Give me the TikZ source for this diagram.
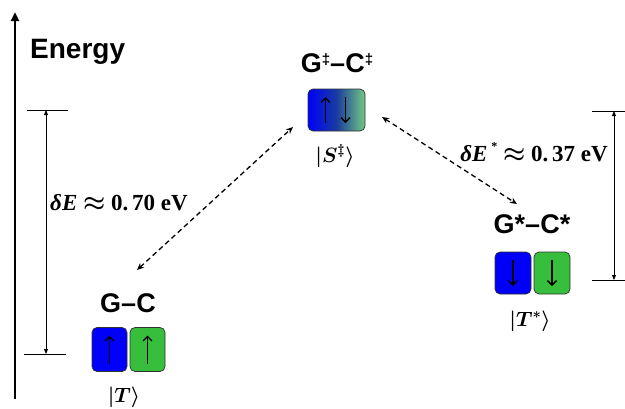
\documentclass[tikz,border=0pt]{standalone}
\usepackage{fontspec}
\newfontfamily\headfont{Liberation Sans}
\newfontfamily\gapfont{Liberation Serif}
\usetikzlibrary{arrows.meta,calc}

\definecolor{spinblue}{RGB}{0,0,250}
\definecolor{spingreen}{RGB}{55,190,60}
\definecolor{gradmid}{RGB}{25,60,160}
\definecolor{gradgreen}{RGB}{115,200,130}
\definecolor{boxedge}{RGB}{50,50,50}

\newcommand{\smallmark}[1]{\raisebox{0.28em}{\fontsize{15}{15}\selectfont #1}}

\tikzset{
  heading/.style={font=\headfont\bfseries\fontsize{27}{30}\selectfont, anchor=base, inner sep=0pt},
  ket/.style={font=\boldmath\fontsize{21}{24}\selectfont, inner sep=0pt},
  gap/.style={font=\boldmath\gapfont\bfseries\fontsize{23}{26}\selectfont, anchor=base, inner sep=0pt},
  spinbox/.style={draw=boxedge, line width=0.7pt, rounded corners=5pt,
    minimum width=35pt, minimum height=44pt, inner sep=0pt},
  bluebox/.style={spinbox, fill=spinblue},
  greenbox/.style={spinbox, fill=spingreen},
  spin/.style={line width=1.4pt, -{Straight Barb[length=4.5pt,width=9pt,line width=1.4pt]}},
  level/.style={line width=1pt},
  span/.style={line width=0.9pt, {Triangle[length=5pt,width=4pt]}-{Triangle[length=5pt,width=4pt]}},
  hop/.style={line width=1.3pt, dash pattern=on 5pt off 3.5pt,
    {Stealth[length=7pt,width=6pt]}-{Stealth[length=7pt,width=6pt]}}
}

\begin{document}
\begin{tikzpicture}[x=1pt, y=-1pt]
  \useasboundingbox (0,0) rectangle (625,408);

  % energy axis
  \coordinate (axbot) at (15,399);
  \coordinate (axtop) at (15,12);
  \draw[line width=2.6pt, -{Triangle[length=9pt,width=8pt]}] (axbot) -- (axtop);
  \node[font=\headfont\bfseries\fontsize{28}{32}\selectfont, anchor=base west, inner sep=0pt]
    (energy) at (30,58) {Energy};

  % triplet ground pair G-C
  \node[heading] (gc) at (128,312) {G–C};
  \node[bluebox] (gcB) at (109.5,349.5) {};
  \node[greenbox] (gcG) at (147.5,349.5) {};
  \draw[spin] ($(gcB.center)+(0,14)$) -- ($(gcB.center)+(0,-14)$);
  \draw[spin] ($(gcG.center)+(0,14)$) -- ($(gcG.center)+(0,-14)$);
  \node[ket] (kT) at (124,397) {$|T\rangle$};

  % singlet pair
  \node[heading] (gcS) at (337,72) {G\smallmark{‡}–C\smallmark{‡}};
  \node[spinbox, minimum width=57pt, minimum height=42pt,
    left color=spinblue, right color=gradgreen, middle color=gradmid] (sB) at (336.5,110) {};
  \draw[spin] ($(sB.center)+(-11,13)$) -- ($(sB.center)+(-11,-13)$);
  \draw[spin] ($(sB.center)+(9,-13)$) -- ($(sB.center)+(9,13)$);
  \node[ket] (kS) at (335,156) {$|S^{\ddagger}\rangle$};

  % excited triplet pair
  \node[heading] (gcT) at (532,233) {G*–C*};
  \node[bluebox, minimum width=36pt, minimum height=42pt] (gtB) at (513,273) {};
  \node[greenbox, minimum width=36pt, minimum height=42pt] (gtG) at (552,273) {};
  \draw[spin] ($(gtB.center)+(0,-13)$) -- ($(gtB.center)+(0,13)$);
  \draw[spin] ($(gtG.center)+(0,-13)$) -- ($(gtG.center)+(0,13)$);
  \node[ket] (kTs) at (530,321) {$|T^{*}\rangle$};

  % transitions
  \coordinate (hopA) at (137,270);
  \coordinate (hopB) at (293,127);
  \coordinate (hopC) at (382,117);
  \coordinate (hopD) at (517,204);
  \draw[hop] (hopA) -- (hopB);
  \draw[hop] (hopC) -- (hopD);

  % left energy gap
  \coordinate (lt1) at (27,110); \coordinate (lt2) at (68,110);
  \coordinate (lb1) at (24,354); \coordinate (lb2) at (66,354);
  \coordinate (lv1) at (46,110); \coordinate (lv2) at (46,354);
  \draw[level] (lt1) -- (lt2);
  \draw[level] (lb1) -- (lb2);
  \draw[span] (lv1) -- (lv2);
  \node[gap] (dE) at (119,210) {\itshape δE\upshape\ $\approx$ 0.\,70 eV};

  % right energy gap
  \coordinate (rt1) at (592,111); \coordinate (rt2) at (625,111);
  \coordinate (rb1) at (592,280); \coordinate (rb2) at (625,280);
  \coordinate (rv1) at (614,111); \coordinate (rv2) at (614,280);
  \draw[level] (rt1) -- (rt2);
  \draw[level] (rb1) -- (rb2);
  \draw[span] (rv1) -- (rv2);
  \node[gap] (dEs) at (534,161) {\itshape δE\upshape\,\raisebox{0.45em}{\fontsize{12}{12}\selectfont *}\ $\approx$ 0.\,37 eV};
\end{tikzpicture}
\end{document}
